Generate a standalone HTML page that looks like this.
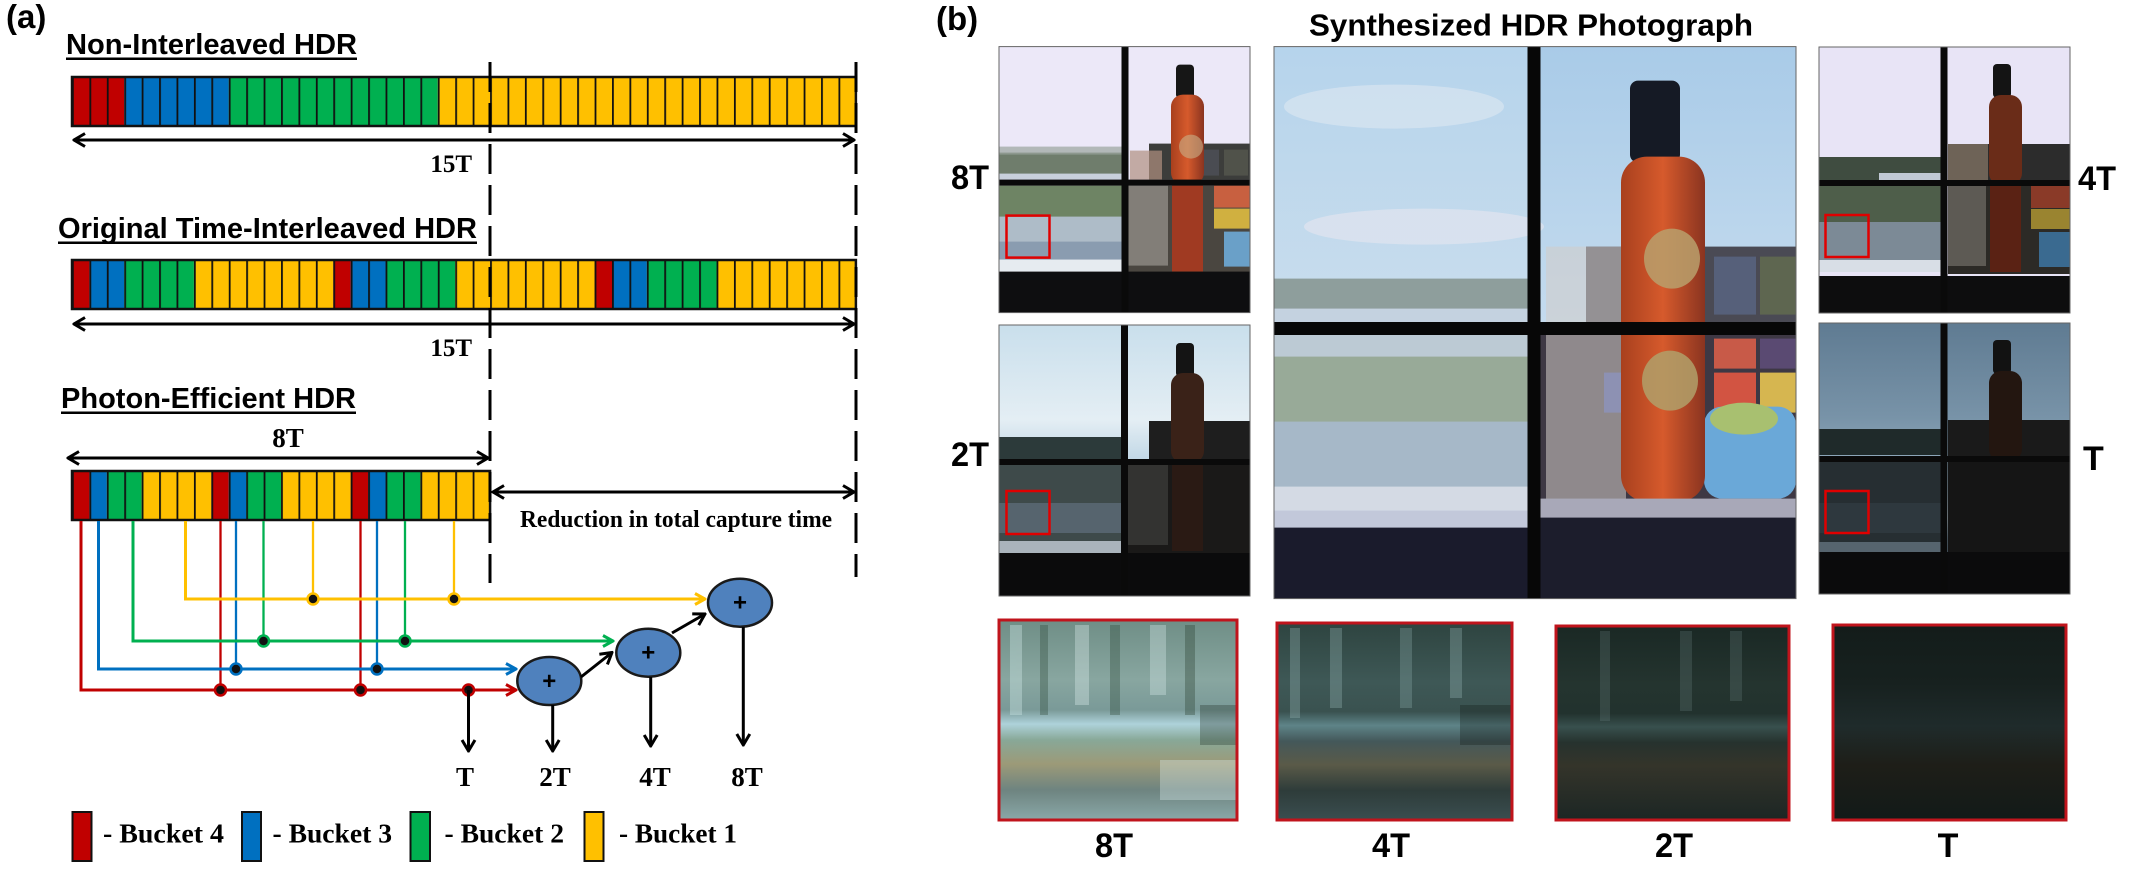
<!DOCTYPE html>
<html><head><meta charset="utf-8">
<style>
html,body{margin:0;padding:0;background:#fff;}
svg{display:block;}
.ar{font-family:"Liberation Sans",Arial,sans-serif;font-weight:bold;}
.tm{font-family:"Liberation Serif","Times New Roman",serif;font-weight:bold;}
</style></head><body>
<svg width="2129" height="871" viewBox="0 0 2129 871" xmlns="http://www.w3.org/2000/svg">
<defs>
 <pattern id="cells" x="72" y="0" width="17.42" height="871" patternUnits="userSpaceOnUse">
   <rect x="0" y="0" width="1.8" height="871" fill="#111"/>
 </pattern>
 <marker id="mk" viewBox="0 0 14 16" refX="12.5" refY="8" markerWidth="14" markerHeight="16" markerUnits="userSpaceOnUse" orient="auto-start-reverse"><path d="M1.5,1.5 L12.5,8 L1.5,14.5" fill="none" stroke="#000" stroke-width="3"/></marker>
 <marker id="mkY" viewBox="0 0 13 14" refX="11.5" refY="7" markerWidth="13" markerHeight="14" markerUnits="userSpaceOnUse" orient="auto"><path d="M1.5,1.5 L11.5,7 L1.5,12.5" fill="none" stroke="#ffc000" stroke-width="3"/></marker>
 <marker id="mkG" viewBox="0 0 13 14" refX="11.5" refY="7" markerWidth="13" markerHeight="14" markerUnits="userSpaceOnUse" orient="auto"><path d="M1.5,1.5 L11.5,7 L1.5,12.5" fill="none" stroke="#00b050" stroke-width="3"/></marker>
 <marker id="mkB" viewBox="0 0 13 14" refX="11.5" refY="7" markerWidth="13" markerHeight="14" markerUnits="userSpaceOnUse" orient="auto"><path d="M1.5,1.5 L11.5,7 L1.5,12.5" fill="none" stroke="#0070c0" stroke-width="3"/></marker>
 <marker id="mkR" viewBox="0 0 13 14" refX="11.5" refY="7" markerWidth="13" markerHeight="14" markerUnits="userSpaceOnUse" orient="auto"><path d="M1.5,1.5 L11.5,7 L1.5,12.5" fill="none" stroke="#c00000" stroke-width="3"/></marker>

 <linearGradient id="skyC" x1="0" y1="0" x2="0" y2="1">
  <stop offset="0" stop-color="#b6d4ec"/><stop offset="0.5" stop-color="#c9dded"/><stop offset="1" stop-color="#d4e2ee"/>
 </linearGradient>
 <linearGradient id="skyC2" x1="0" y1="0" x2="0" y2="1">
  <stop offset="0" stop-color="#a9cbe8"/><stop offset="1" stop-color="#c4dbee"/>
 </linearGradient>
 <linearGradient id="sky2T" x1="0" y1="0" x2="0" y2="1">
  <stop offset="0" stop-color="#c9dfec"/><stop offset="0.35" stop-color="#e4eef4"/><stop offset="0.6" stop-color="#a9c8dc"/><stop offset="1" stop-color="#d2e2ec"/>
 </linearGradient>
 <linearGradient id="skyT" x1="0" y1="0" x2="0" y2="1">
  <stop offset="0" stop-color="#5f7b92"/><stop offset="0.35" stop-color="#7893a8"/><stop offset="0.62" stop-color="#9fb6c6"/><stop offset="0.72" stop-color="#c6d6e0"/><stop offset="0.8" stop-color="#7c94a6"/><stop offset="1" stop-color="#5a7288"/>
 </linearGradient>
 <linearGradient id="bottle" x1="0" y1="0" x2="1" y2="0">
  <stop offset="0" stop-color="#a8401e"/><stop offset="0.5" stop-color="#d65a2c"/><stop offset="1" stop-color="#8a3420"/>
 </linearGradient>
 <linearGradient id="c1" x1="0" y1="0" x2="0" y2="1">
  <stop offset="0" stop-color="#6f8e86"/><stop offset="0.3" stop-color="#88a6a0"/><stop offset="0.45" stop-color="#7a9a98"/><stop offset="0.52" stop-color="#aed2da"/><stop offset="0.6" stop-color="#88a898"/><stop offset="0.72" stop-color="#9c9a78"/><stop offset="0.85" stop-color="#6e8480"/><stop offset="1" stop-color="#8aa8a8"/>
 </linearGradient>
 <linearGradient id="c2" x1="0" y1="0" x2="0" y2="1">
  <stop offset="0" stop-color="#2e4440"/><stop offset="0.3" stop-color="#3e5856"/><stop offset="0.45" stop-color="#3a5250"/><stop offset="0.52" stop-color="#5e8488"/><stop offset="0.6" stop-color="#44585a"/><stop offset="0.72" stop-color="#5a5a48"/><stop offset="0.85" stop-color="#2e3c3a"/><stop offset="1" stop-color="#3a4e50"/>
 </linearGradient>
 <linearGradient id="c3" x1="0" y1="0" x2="0" y2="1">
  <stop offset="0" stop-color="#1a2824"/><stop offset="0.3" stop-color="#24342f"/><stop offset="0.45" stop-color="#22322e"/><stop offset="0.52" stop-color="#38504e"/><stop offset="0.6" stop-color="#26322e"/><stop offset="0.72" stop-color="#34342a"/><stop offset="1" stop-color="#1c2624"/>
 </linearGradient>
 <linearGradient id="c4" x1="0" y1="0" x2="0" y2="1">
  <stop offset="0" stop-color="#131c1a"/><stop offset="0.3" stop-color="#17211f"/><stop offset="0.52" stop-color="#1f2b2b"/><stop offset="0.72" stop-color="#1e1e18"/><stop offset="1" stop-color="#121a18"/>
 </linearGradient>
</defs>

<!-- ================= PANEL (a) ================= -->
<text class="ar" x="6" y="28" font-size="33">(a)</text>

<text class="ar" x="66" y="54" font-size="29" textLength="291" lengthAdjust="spacingAndGlyphs">Non-Interleaved HDR</text>
<rect x="66" y="57.5" width="291" height="2.5" fill="#000"/>

<!-- Bar 1 -->
<rect x="72" y="77" width="52.26" height="49" fill="#c00000"/>
<rect x="124.26" y="77" width="104.52" height="49" fill="#0070c0"/>
<rect x="228.78" y="77" width="209.04" height="49" fill="#00b050"/>
<rect x="437.82" y="77" width="418.08" height="49" fill="#ffc000"/>
<rect x="72" y="77" width="783.9" height="49" fill="url(#cells)"/>
<rect x="72" y="77" width="783.9" height="49" fill="none" stroke="#111" stroke-width="2.5"/>

<line x1="74" y1="140" x2="854" y2="140" stroke="#000" stroke-width="3" marker-start="url(#mk)" marker-end="url(#mk)"/>
<text class="tm" x="472" y="172" font-size="25" text-anchor="end">15T</text>

<text class="ar" x="58" y="238" font-size="29" textLength="419" lengthAdjust="spacingAndGlyphs">Original Time-Interleaved HDR</text>
<rect x="58" y="241.5" width="419" height="2.5" fill="#000"/>

<!-- Bar 2 -->
<rect x="72" y="260" width="17.42" height="49" fill="#c00000"/>
<rect x="89.42" y="260" width="34.84" height="49" fill="#0070c0"/>
<rect x="124.26" y="260" width="69.68" height="49" fill="#00b050"/>
<rect x="193.94" y="260" width="139.36" height="49" fill="#ffc000"/>
<rect x="333.3" y="260" width="17.42" height="49" fill="#c00000"/>
<rect x="350.72" y="260" width="34.84" height="49" fill="#0070c0"/>
<rect x="385.56" y="260" width="69.68" height="49" fill="#00b050"/>
<rect x="455.24" y="260" width="139.36" height="49" fill="#ffc000"/>
<rect x="594.6" y="260" width="17.42" height="49" fill="#c00000"/>
<rect x="612.02" y="260" width="34.84" height="49" fill="#0070c0"/>
<rect x="646.86" y="260" width="69.68" height="49" fill="#00b050"/>
<rect x="716.54" y="260" width="139.36" height="49" fill="#ffc000"/>
<rect x="72" y="260" width="783.9" height="49" fill="url(#cells)"/>
<rect x="72" y="260" width="783.9" height="49" fill="none" stroke="#111" stroke-width="2.5"/>

<line x1="74" y1="324" x2="854" y2="324" stroke="#000" stroke-width="3" marker-start="url(#mk)" marker-end="url(#mk)"/>
<text class="tm" x="472" y="356" font-size="25" text-anchor="end">15T</text>

<text class="ar" x="61" y="408" font-size="29" textLength="295" lengthAdjust="spacingAndGlyphs">Photon-Efficient HDR</text>
<rect x="61" y="411.5" width="295" height="2.5" fill="#000"/>

<text class="tm" x="288" y="447" font-size="27" text-anchor="middle">8T</text>
<line x1="68" y1="458" x2="488" y2="458" stroke="#000" stroke-width="3" marker-start="url(#mk)" marker-end="url(#mk)"/>

<!-- Bar 3 -->
<rect x="72" y="471" width="17.42" height="49" fill="#c00000"/>
<rect x="89.42" y="471" width="17.42" height="49" fill="#0070c0"/>
<rect x="106.84" y="471" width="34.84" height="49" fill="#00b050"/>
<rect x="141.68" y="471" width="69.68" height="49" fill="#ffc000"/>
<rect x="211.36" y="471" width="17.42" height="49" fill="#c00000"/>
<rect x="228.78" y="471" width="17.42" height="49" fill="#0070c0"/>
<rect x="246.2" y="471" width="34.84" height="49" fill="#00b050"/>
<rect x="281.04" y="471" width="69.68" height="49" fill="#ffc000"/>
<rect x="350.72" y="471" width="17.42" height="49" fill="#c00000"/>
<rect x="368.14" y="471" width="17.42" height="49" fill="#0070c0"/>
<rect x="385.56" y="471" width="34.84" height="49" fill="#00b050"/>
<rect x="420.4" y="471" width="69.68" height="49" fill="#ffc000"/>
<rect x="72" y="471" width="418.08" height="49" fill="url(#cells)"/>
<rect x="72" y="471" width="418.08" height="49" fill="none" stroke="#111" stroke-width="2.5"/>

<!-- dashed lines -->
<line x1="490" y1="62" x2="490" y2="583" stroke="#000" stroke-width="3" stroke-dasharray="30 11"/>
<line x1="856" y1="62" x2="856" y2="577" stroke="#000" stroke-width="3" stroke-dasharray="30 11"/>

<line x1="493" y1="492" x2="854" y2="492" stroke="#000" stroke-width="3" marker-start="url(#mk)" marker-end="url(#mk)"/>
<text class="tm" x="520" y="527" font-size="24" textLength="312" lengthAdjust="spacingAndGlyphs">Reduction in total capture time</text>

<!-- connectors: verticals from bar -->
<g stroke-width="2.3" fill="none">
 <line x1="220.5" y1="521" x2="220.5" y2="690" stroke="#c00000"/>
 <line x1="360.5" y1="521" x2="360.5" y2="690" stroke="#c00000"/>
 <line x1="236" y1="521" x2="236" y2="669" stroke="#0070c0"/>
 <line x1="377" y1="521" x2="377" y2="669" stroke="#0070c0"/>
 <line x1="263.5" y1="521" x2="263.5" y2="641" stroke="#00b050"/>
 <line x1="405" y1="521" x2="405" y2="641" stroke="#00b050"/>
 <line x1="313" y1="521" x2="313" y2="599" stroke="#ffc000"/>
 <line x1="454" y1="521" x2="454" y2="599" stroke="#ffc000"/>
</g>
<g stroke-width="3" fill="none">
 <path d="M185.5,521 V599 H705" stroke="#ffc000" marker-end="url(#mkY)"/>
 <path d="M133,521 V641 H613" stroke="#00b050" marker-end="url(#mkG)"/>
 <path d="M98.5,521 V669 H516" stroke="#0070c0" marker-end="url(#mkB)"/>
 <path d="M81,521 V690 H516" stroke="#c00000" marker-end="url(#mkR)"/>
</g>
<g fill="#111" stroke-width="2.5">
 <circle cx="313" cy="599" r="5.5" stroke="#ffc000"/>
 <circle cx="454" cy="599" r="5.5" stroke="#ffc000"/>
 <circle cx="263.5" cy="641" r="5.5" stroke="#00b050"/>
 <circle cx="405" cy="641" r="5.5" stroke="#00b050"/>
 <circle cx="236" cy="669" r="5.5" stroke="#0070c0"/>
 <circle cx="377" cy="669" r="5.5" stroke="#0070c0"/>
 <circle cx="220.5" cy="690" r="5.5" stroke="#c00000"/>
 <circle cx="360.5" cy="690" r="5.5" stroke="#c00000"/>
 <circle cx="468.5" cy="690" r="5.5" stroke="#c00000"/>
</g>

<!-- adders -->
<g fill="#4f81bd" stroke="#1a1a1a" stroke-width="2.5">
 <ellipse cx="549.3" cy="681" rx="32" ry="24"/>
 <ellipse cx="648.3" cy="652.7" rx="32" ry="24"/>
 <ellipse cx="740" cy="602.7" rx="32" ry="24"/>
</g>
<g class="ar" font-size="24" text-anchor="middle" fill="#000">
 <text x="549.3" y="689">+</text>
 <text x="648.3" y="660.7">+</text>
 <text x="740" y="610.7">+</text>
</g>
<line x1="581" y1="677" x2="612" y2="652.5" stroke="#000" stroke-width="3" marker-end="url(#mk)"/>
<line x1="672" y1="633" x2="705" y2="614" stroke="#000" stroke-width="3" marker-end="url(#mk)"/>

<line x1="468.5" y1="690" x2="468.5" y2="751" stroke="#000" stroke-width="3" marker-end="url(#mk)"/>
<line x1="552.7" y1="705" x2="552.7" y2="751" stroke="#000" stroke-width="3" marker-end="url(#mk)"/>
<line x1="650.7" y1="677" x2="650.7" y2="746" stroke="#000" stroke-width="3" marker-end="url(#mk)"/>
<line x1="743.3" y1="627" x2="743.3" y2="745" stroke="#000" stroke-width="3" marker-end="url(#mk)"/>

<g class="tm" font-size="27" text-anchor="middle">
 <text x="465" y="786">T</text>
 <text x="555" y="786">2T</text>
 <text x="655" y="786">4T</text>
 <text x="747" y="786">8T</text>
</g>

<!-- legend -->
<g stroke="#111" stroke-width="2">
 <rect x="72.5" y="812" width="19" height="49" fill="#c00000"/>
 <rect x="242" y="812" width="19" height="49" fill="#0070c0"/>
 <rect x="410.5" y="812" width="19.5" height="49" fill="#00b050"/>
 <rect x="584.5" y="812" width="19" height="49" fill="#ffc000"/>
</g>
<g class="tm" font-size="27">
 <text x="103" y="842.5" textLength="121" lengthAdjust="spacingAndGlyphs">- Bucket 4</text>
 <text x="272.5" y="842.5" textLength="119.5" lengthAdjust="spacingAndGlyphs">- Bucket 3</text>
 <text x="444.5" y="842.5" textLength="119.5" lengthAdjust="spacingAndGlyphs">- Bucket 2</text>
 <text x="619" y="842.5" textLength="118" lengthAdjust="spacingAndGlyphs">- Bucket 1</text>
</g>

<!-- ================= PANEL (b) ================= -->
<text class="ar" x="936" y="30" font-size="33">(b)</text>
<text class="ar" x="1309" y="35.5" font-size="31" textLength="444" lengthAdjust="spacingAndGlyphs">Synthesized HDR Photograph</text>

<g class="ar" font-size="34">
 <text x="951" y="189" textLength="38" lengthAdjust="spacingAndGlyphs">8T</text>
 <text x="951" y="466" textLength="38" lengthAdjust="spacingAndGlyphs">2T</text>
 <text x="2078" y="190" textLength="38" lengthAdjust="spacingAndGlyphs">4T</text>
 <text x="2083" y="470">T</text>
</g>

<!-- small image 8T -->
<g transform="translate(999,46.6)">
 <rect width="251" height="266" fill="#ece8f8"/>
 <rect x="0" y="106" width="123" height="27" fill="#6f7d6c"/>
 <rect x="0" y="100" width="123" height="8" fill="#9aa49c" opacity="0.7"/>
 <rect x="0" y="127" width="123" height="6" fill="#c8d0dc"/>
 <rect x="150" y="97" width="101" height="36" fill="#3c3d3b"/>
 <rect x="200" y="103" width="20" height="26" fill="#4a4c52"/>
 <rect x="225" y="103" width="24" height="26" fill="#50524a"/>
 <rect x="131" y="104" width="32" height="29" fill="#b09080" opacity="0.7"/>
 <rect x="177" y="18" width="18" height="34" rx="4" fill="#161616"/>
 <rect x="172" y="48" width="33" height="90" rx="12" fill="url(#bottle)"/>
 <circle cx="192" cy="100" r="12" fill="#c8b088" opacity="0.6"/>
 <rect x="0" y="139" width="123" height="40" fill="#6e8464"/>
 <rect x="0" y="170" width="123" height="45" fill="#aebcc8"/>
 <rect x="0" y="195" width="123" height="18" fill="#8a9cb0"/>
 <rect x="0" y="213" width="123" height="12" fill="#e6ebf0"/>
 <rect x="129" y="139" width="122" height="88" fill="#4a4640"/>
 <rect x="129" y="139" width="40" height="80" fill="#9a9690" opacity="0.7"/>
 <rect x="215" y="139" width="36" height="22" fill="#c86040"/>
 <rect x="215" y="162" width="36" height="20" fill="#d0b040"/>
 <rect x="225" y="185" width="26" height="35" fill="#6aa0c8"/>
 <rect x="173" y="139" width="31" height="86" fill="#a03a22"/>
 <rect x="0" y="225" width="251" height="41" fill="#0e0e10"/>
 <rect x="122.5" y="0" width="7" height="266" fill="#0a0a0a"/>
 <rect x="0" y="133" width="251" height="6" fill="#0a0a0a"/>
 <rect x="7.5" y="169" width="43" height="42" fill="none" stroke="#e00000" stroke-width="2.5"/>
 <rect width="251" height="266" fill="none" stroke="#666" stroke-width="1"/>
</g>

<!-- small image 2T -->
<g transform="translate(999,325)">
 <rect width="251" height="271" fill="url(#sky2T)"/>
 <rect x="0" y="112" width="123" height="22" fill="#2c3a3a"/>
 <rect x="150" y="96" width="101" height="38" fill="#1e1e1e"/>
 <rect x="177" y="18" width="18" height="34" rx="4" fill="#141414"/>
 <rect x="172" y="48" width="33" height="90" rx="12" fill="#3a2218"/>
 <rect x="0" y="140" width="123" height="78" fill="#3e4a4a"/>
 <rect x="0" y="178" width="123" height="30" fill="#56646e"/>
 <rect x="0" y="216" width="123" height="12" fill="#aab4bc"/>
 <rect x="129" y="140" width="122" height="88" fill="#1a1918"/>
 <rect x="129" y="140" width="40" height="80" fill="#3a3a38" opacity="0.8"/>
 <rect x="173" y="140" width="31" height="86" fill="#2a1a14"/>
 <rect x="0" y="228" width="251" height="43" fill="#0b0b0c"/>
 <rect x="122" y="0" width="7" height="271" fill="#0a0a0a"/>
 <rect x="0" y="134" width="251" height="6" fill="#0a0a0a"/>
 <rect x="7.5" y="166" width="43" height="43" fill="none" stroke="#e00000" stroke-width="2.5"/>
 <rect width="251" height="271" fill="none" stroke="#666" stroke-width="1"/>
</g>

<!-- small image 4T -->
<g transform="translate(1819,47)">
 <rect width="251" height="266" fill="#e8e4f6"/>
 <rect x="0" y="110" width="122" height="23" fill="#3f4c40"/>
 <rect x="60" y="126" width="62" height="7" fill="#c0c8d4"/>
 <rect x="129" y="97" width="122" height="36" fill="#2c2c2c"/>
 <rect x="129" y="97" width="40" height="36" fill="#8a7a6a" opacity="0.7"/>
 <rect x="174" y="17" width="18" height="34" rx="4" fill="#141414"/>
 <rect x="170" y="48" width="33" height="90" rx="12" fill="#6a2c18"/>
 <rect x="0" y="139" width="122" height="40" fill="#4e5e4a"/>
 <rect x="0" y="175" width="122" height="40" fill="#7c8a96"/>
 <rect x="0" y="213" width="122" height="12" fill="#d8dee6"/>
 <rect x="129" y="139" width="122" height="88" fill="#2c2a26"/>
 <rect x="129" y="139" width="38" height="80" fill="#6a6660" opacity="0.8"/>
 <rect x="212" y="139" width="39" height="22" fill="#8a3a28"/>
 <rect x="212" y="162" width="39" height="20" fill="#9a8430"/>
 <rect x="220" y="185" width="31" height="35" fill="#3a6a90"/>
 <rect x="171" y="139" width="31" height="86" fill="#5a2214"/>
 <rect x="0" y="229" width="251" height="37" fill="#0d0d0e"/>
 <rect x="121.5" y="0" width="7" height="266" fill="#0a0a0a"/>
 <rect x="0" y="133" width="251" height="6" fill="#0a0a0a"/>
 <rect x="6.5" y="168" width="43" height="42" fill="none" stroke="#e00000" stroke-width="2.5"/>
 <rect width="251" height="266" fill="none" stroke="#666" stroke-width="1"/>
</g>

<!-- small image T -->
<g transform="translate(1819,323)">
 <rect width="251" height="271" fill="url(#skyT)"/>
 <rect x="0" y="106" width="122" height="26" fill="#1f2a2a"/>
 <rect x="129" y="97" width="122" height="36" fill="#1a1a1a"/>
 <rect x="174" y="17" width="18" height="34" rx="4" fill="#121212"/>
 <rect x="170" y="48" width="33" height="90" rx="12" fill="#231610"/>
 <rect x="0" y="139" width="122" height="80" fill="#262e32"/>
 <rect x="0" y="180" width="122" height="30" fill="#2e383e"/>
 <rect x="0" y="219" width="122" height="10" fill="#56646e"/>
 <rect x="129" y="139" width="122" height="90" fill="#151515"/>
 <rect x="0" y="229" width="251" height="42" fill="#0b0b0c"/>
 <rect x="121.5" y="0" width="7" height="271" fill="#0a0a0a"/>
 <rect x="0" y="133" width="251" height="6" fill="#0a0a0a"/>
 <rect x="6.5" y="168" width="43" height="42" fill="none" stroke="#e00000" stroke-width="2.5"/>
 <rect width="251" height="271" fill="none" stroke="#666" stroke-width="1"/>
</g>

<!-- center big image -->
<g transform="translate(1274,46.6)">
 <rect width="522" height="552" fill="url(#skyC)"/>
 <rect x="266" y="0" width="256" height="276" fill="url(#skyC2)"/>
 <ellipse cx="120" cy="60" rx="110" ry="22" fill="#dde8f2" opacity="0.6"/>
 <ellipse cx="150" cy="180" rx="120" ry="18" fill="#e6e6f0" opacity="0.6"/>
 <!-- horizon trees left -->
 <rect x="0" y="232" width="254" height="36" fill="#8e9e9c"/>
 <rect x="0" y="262" width="254" height="14" fill="#c4d2e0"/>
 <!-- lower left landscape -->
 <rect x="0" y="288" width="254" height="30" fill="#bccad4"/>
 <rect x="0" y="310" width="254" height="70" fill="#98aa98"/>
 <rect x="0" y="375" width="254" height="70" fill="#a6b8c8"/>
 <rect x="0" y="440" width="254" height="24" fill="#d4dae4"/>
 <rect x="0" y="464" width="254" height="17" fill="#c2c8da"/>
 <!-- right lower background -->
 <rect x="312" y="200" width="210" height="76" fill="#4a4a54"/>
 <rect x="266" y="288" width="256" height="165" fill="#3e3844"/>
 <rect x="440" y="210" width="42" height="58" fill="#56607a"/>
 <rect x="486" y="210" width="36" height="58" fill="#5e6650"/>
 <rect x="440" y="292" width="42" height="30" fill="#c85a48"/>
 <rect x="486" y="292" width="36" height="30" fill="#5a4a72"/>
 <rect x="440" y="326" width="42" height="40" fill="#d25442"/>
 <rect x="486" y="326" width="36" height="40" fill="#d6b650"/>
 <rect x="330" y="326" width="40" height="40" fill="#3a4a9a"/>
 <!-- glass beaker -->
 <rect x="272" y="200" width="80" height="258" fill="#d2ccc8" opacity="0.55"/>
 <!-- alien -->
 <rect x="430" y="360" width="92" height="92" rx="18" fill="#6aa8d8"/>
 <ellipse cx="470" cy="372" rx="34" ry="16" fill="#a8c070"/>
 <!-- bottle -->
 <rect x="356" y="34" width="50" height="82" rx="8" fill="#151a25"/>
 <rect x="347" y="110" width="84" height="345" rx="26" fill="url(#bottle)"/>
 <ellipse cx="398" cy="212" rx="28" ry="30" fill="#b8a06c" opacity="0.85"/>
 <ellipse cx="396" cy="334" rx="28" ry="30" fill="#b0a06a" opacity="0.85"/>
 <!-- sill right -->
 <rect x="266" y="452" width="256" height="20" fill="#a8a8b8"/>
 <!-- dark bottom -->
 <rect x="0" y="481" width="254" height="71" fill="#1a1b2c"/>
 <rect x="266" y="471" width="256" height="81" fill="#1c1d2c"/>
 <!-- mullions -->
 <rect x="253.5" y="0" width="13" height="552" fill="#070707"/>
 <rect x="0" y="275.4" width="522" height="13" fill="#070707"/>
 <rect width="522" height="552" fill="none" stroke="#666" stroke-width="1"/>
</g>

<!-- bottom crops -->
<g>
 <rect x="999" y="620" width="238" height="200" fill="url(#c1)"/>
 <g opacity="0.35">
  <rect x="1010" y="625" width="12" height="90" fill="#d8f0f0"/>
  <rect x="1040" y="625" width="8" height="90" fill="#2e4a3a"/>
  <rect x="1075" y="625" width="14" height="80" fill="#e0f0f0"/>
  <rect x="1110" y="625" width="10" height="90" fill="#2e4a3a"/>
  <rect x="1150" y="625" width="16" height="70" fill="#d8ecec"/>
  <rect x="1185" y="625" width="10" height="90" fill="#2a4030"/>
  <rect x="1200" y="705" width="37" height="40" fill="#2a3a30"/>
  <rect x="1160" y="760" width="77" height="40" fill="#e0f0f0"/>
 </g>
 <rect x="999" y="620" width="238" height="200" fill="none" stroke="#c0141c" stroke-width="3"/>

 <rect x="1277" y="623" width="235" height="197" fill="url(#c2)"/>
 <g opacity="0.3">
  <rect x="1290" y="628" width="10" height="90" fill="#a0c0c0"/>
  <rect x="1330" y="628" width="12" height="80" fill="#a0c0c0"/>
  <rect x="1400" y="628" width="12" height="80" fill="#90b0b0"/>
  <rect x="1450" y="628" width="12" height="70" fill="#a0c0c0"/>
  <rect x="1460" y="705" width="52" height="40" fill="#101814"/>
 </g>
 <rect x="1277" y="623" width="235" height="197" fill="none" stroke="#c0141c" stroke-width="3"/>

 <rect x="1556" y="626" width="233" height="194" fill="url(#c3)"/>
 <g opacity="0.25">
  <rect x="1600" y="631" width="10" height="90" fill="#708888"/>
  <rect x="1680" y="631" width="12" height="80" fill="#708888"/>
  <rect x="1730" y="631" width="12" height="70" fill="#708888"/>
 </g>
 <rect x="1556" y="626" width="233" height="194" fill="none" stroke="#c0141c" stroke-width="3"/>

 <rect x="1833" y="625" width="233" height="195" fill="url(#c4)"/>
 <rect x="1833" y="625" width="233" height="195" fill="none" stroke="#c0141c" stroke-width="3"/>
</g>

<g class="ar" font-size="34" text-anchor="middle">
 <text x="1114" y="857" textLength="38" lengthAdjust="spacingAndGlyphs">8T</text>
 <text x="1391" y="857" textLength="38" lengthAdjust="spacingAndGlyphs">4T</text>
 <text x="1674" y="857" textLength="38" lengthAdjust="spacingAndGlyphs">2T</text>
 <text x="1948" y="857">T</text>
</g>
</svg>
</body></html>
